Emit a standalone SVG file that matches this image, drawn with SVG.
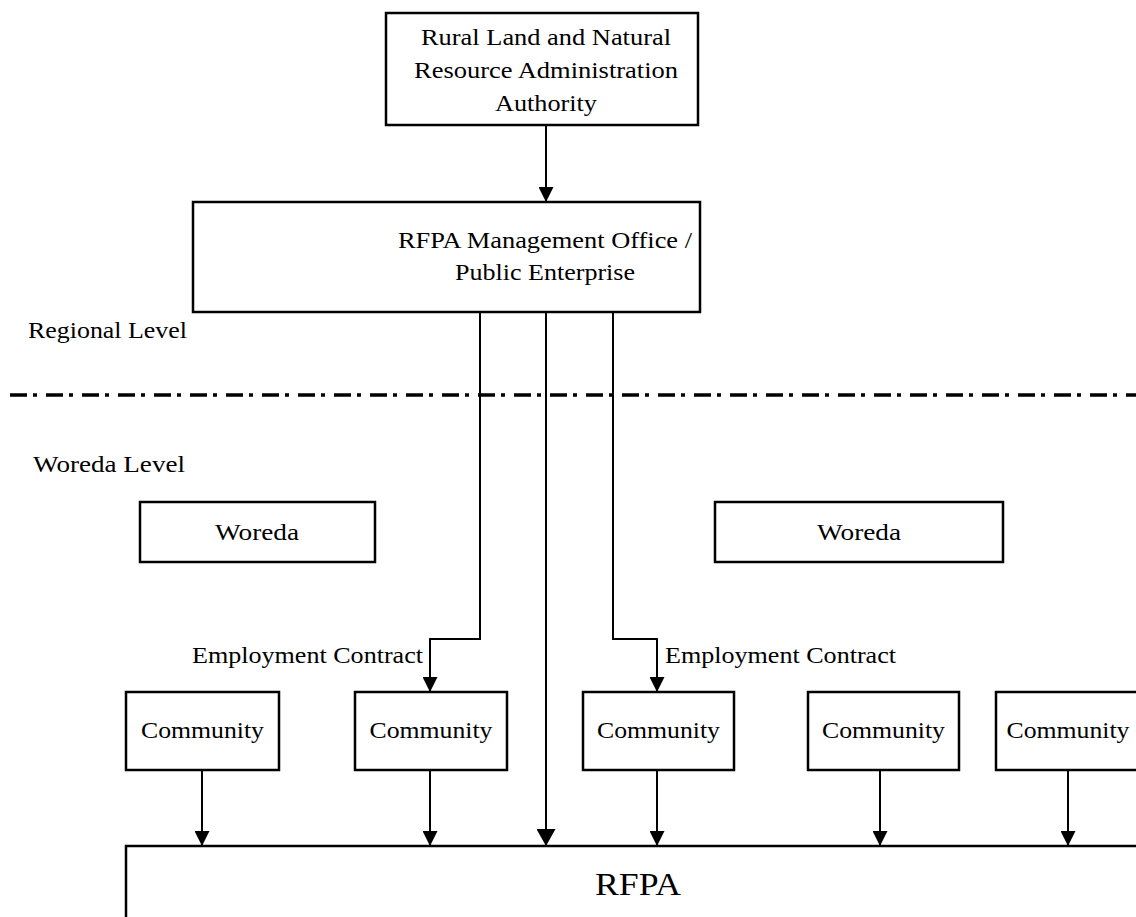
<svg xmlns="http://www.w3.org/2000/svg" width="1136" height="917" viewBox="0 0 1136 917">
  <style>
    .box { fill: #ffffff; stroke: #000000; stroke-width: 2.5; }
    .txt { font-family: "Liberation Serif", "Times New Roman", serif; font-size: 23px; fill: #000000; }
    .big { font-family: "Liberation Serif", "Times New Roman", serif; font-size: 31px; fill: #000000; }
    .conn { fill: none; stroke: #000000; stroke-width: 2; }
    .level { fill: none; stroke: #000000; stroke-width: 3.5; stroke-dasharray: 17 6 4 9; }
  </style>
  <defs>
    <marker id="arrow" markerUnits="userSpaceOnUse" viewBox="0 0 15 15" markerWidth="15" markerHeight="15" refX="15" refY="7.5" orient="auto">
      <path d="M0,0 L15,7.5 L0,15 z" fill="#000000"/>
    </marker>
    <marker id="arrowBig" markerUnits="userSpaceOnUse" viewBox="0 0 17 19" markerWidth="17" markerHeight="19" refX="17" refY="9.5" orient="auto">
      <path d="M0,0 L17,9.5 L0,19 z" fill="#000000"/>
    </marker>
  </defs>

  <rect width="1136" height="917" fill="#ffffff"/>

  <!-- level labels and divider -->
  <g id="levels">
    <text class="txt" x="28" y="338" textLength="159" lengthAdjust="spacingAndGlyphs">Regional Level</text>
    <line class="level" x1="10" y1="395" x2="1136" y2="395"/>
    <text class="txt" x="33" y="472" textLength="152" lengthAdjust="spacingAndGlyphs">Woreda Level</text>
  </g>

  <g id="authority">
    <rect class="box" x="386" y="13" width="312" height="112"/>
    <text class="txt" x="546" y="45" text-anchor="middle" textLength="250" lengthAdjust="spacingAndGlyphs">Rural Land and Natural</text>
    <text class="txt" x="546" y="78" text-anchor="middle" textLength="264" lengthAdjust="spacingAndGlyphs">Resource Administration</text>
    <text class="txt" x="546" y="111" text-anchor="middle" textLength="102" lengthAdjust="spacingAndGlyphs">Authority</text>
  </g>

  <g id="management-office">
    <rect class="box" x="193" y="202" width="507" height="110"/>
    <text class="txt" x="545" y="248" text-anchor="middle" textLength="294" lengthAdjust="spacingAndGlyphs">RFPA Management Office /</text>
    <text class="txt" x="545" y="280" text-anchor="middle" textLength="180" lengthAdjust="spacingAndGlyphs">Public Enterprise</text>
  </g>

  <g id="woreda-left">
    <rect class="box" x="140" y="502" width="235" height="60"/>
    <text class="txt" x="257" y="540" text-anchor="middle" textLength="84" lengthAdjust="spacingAndGlyphs">Woreda</text>
  </g>
  <g id="woreda-right">
    <rect class="box" x="715" y="502" width="288" height="60"/>
    <text class="txt" x="859" y="540" text-anchor="middle" textLength="84" lengthAdjust="spacingAndGlyphs">Woreda</text>
  </g>

  <g id="community-1">
    <rect class="box" x="126" y="692" width="153" height="78"/>
    <text class="txt" x="202.5" y="738" text-anchor="middle" textLength="123" lengthAdjust="spacingAndGlyphs">Community</text>
  </g>
  <g id="community-2">
    <rect class="box" x="355" y="692" width="152" height="78"/>
    <text class="txt" x="431" y="738" text-anchor="middle" textLength="123" lengthAdjust="spacingAndGlyphs">Community</text>
  </g>
  <g id="community-3">
    <rect class="box" x="583" y="692" width="151" height="78"/>
    <text class="txt" x="658.5" y="738" text-anchor="middle" textLength="123" lengthAdjust="spacingAndGlyphs">Community</text>
  </g>
  <g id="community-4">
    <rect class="box" x="808" y="692" width="151" height="78"/>
    <text class="txt" x="883.5" y="738" text-anchor="middle" textLength="123" lengthAdjust="spacingAndGlyphs">Community</text>
  </g>
  <g id="community-5">
    <rect class="box" x="996" y="692" width="150" height="78"/>
    <text class="txt" x="1068" y="738" text-anchor="middle" textLength="123" lengthAdjust="spacingAndGlyphs">Community</text>
  </g>

  <g id="rfpa">
    <rect class="box" x="126" y="846" width="1020" height="80"/>
    <text class="big" x="595" y="895" textLength="86" lengthAdjust="spacingAndGlyphs">RFPA</text>
  </g>

  <g id="connectors">
    <line class="conn" x1="546" y1="125" x2="546" y2="202" marker-end="url(#arrow)"/>
    <line class="conn" x1="546" y1="312" x2="546" y2="846" marker-end="url(#arrowBig)"/>
    <polyline class="conn" points="480,312 480,639 430,639 430,692" marker-end="url(#arrow)"/>
    <polyline class="conn" points="613,312 613,639 657,639 657,692" marker-end="url(#arrow)"/>
    <line class="conn" x1="202" y1="770" x2="202" y2="846" marker-end="url(#arrow)"/>
    <line class="conn" x1="430" y1="770" x2="430" y2="846" marker-end="url(#arrow)"/>
    <line class="conn" x1="657" y1="770" x2="657" y2="846" marker-end="url(#arrow)"/>
    <line class="conn" x1="880" y1="770" x2="880" y2="846" marker-end="url(#arrow)"/>
    <line class="conn" x1="1068" y1="770" x2="1068" y2="846" marker-end="url(#arrow)"/>
    <text class="txt" x="192" y="663" textLength="231" lengthAdjust="spacingAndGlyphs">Employment Contract</text>
    <text class="txt" x="665" y="663" textLength="231" lengthAdjust="spacingAndGlyphs">Employment Contract</text>
  </g>
</svg>
